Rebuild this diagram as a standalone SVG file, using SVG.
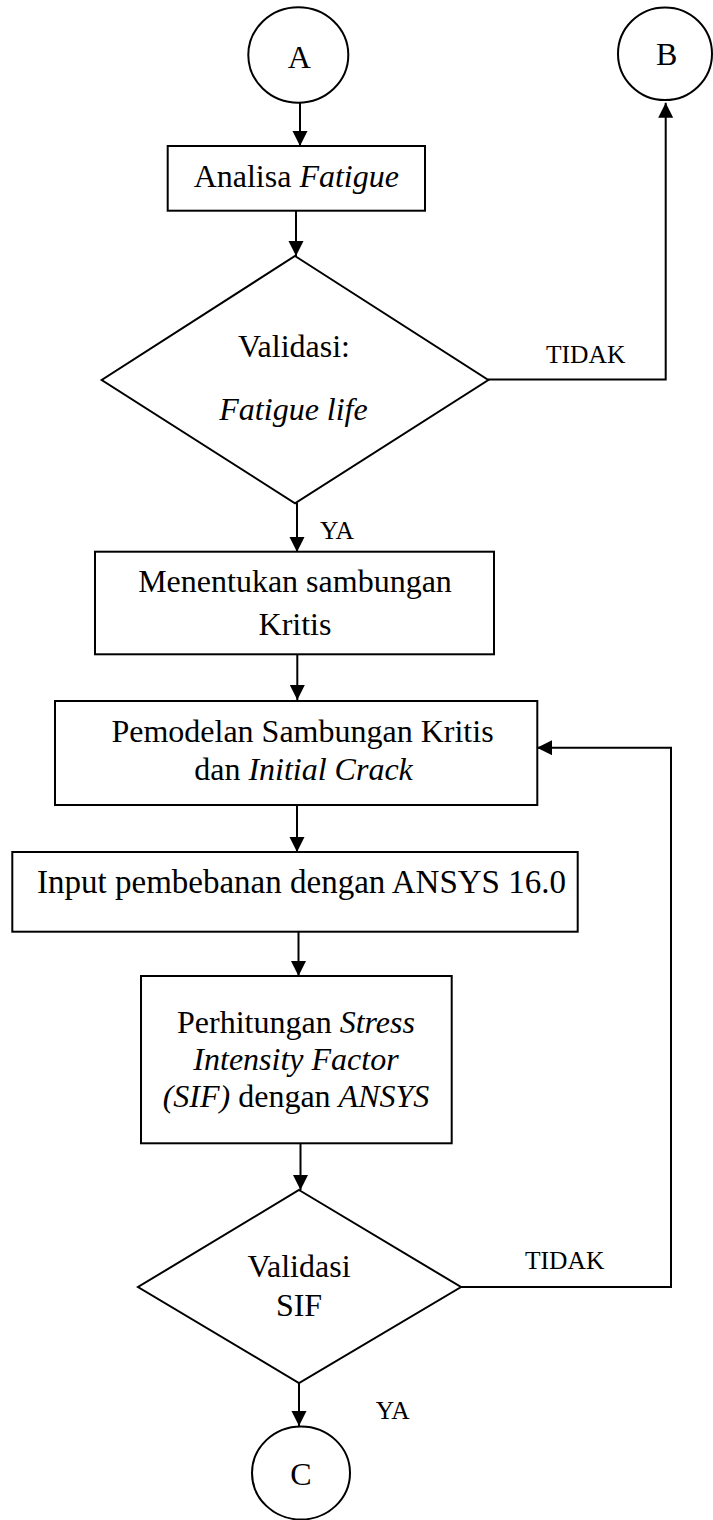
<svg xmlns="http://www.w3.org/2000/svg" width="713" height="1520" viewBox="0 0 713 1520">
<style>
.shape{fill:#fff;stroke:#000;stroke-width:2}
.line{fill:none;stroke:#000;stroke-width:2}
text{font-size:32px;fill:#000;text-anchor:middle}
.lbl{font-size:25.5px;text-anchor:start}
.it{font-style:italic}
</style>
<defs>
<marker id="arr" markerUnits="userSpaceOnUse" markerWidth="16" markerHeight="16" refX="15" refY="7.5" orient="auto">
<path d="M0,0 L15,7.5 L0,15 z" fill="#000"/>
</marker>
</defs>
<rect width="713" height="1520" fill="#fff"/>
<g font-family="'Liberation Serif', Tinos, 'DejaVu Serif', serif">
<g id="connectors">
<line class="line" x1="300" y1="103" x2="300" y2="146" marker-end="url(#arr)"/>
<line class="line" x1="296" y1="211" x2="296" y2="256" marker-end="url(#arr)"/>
<polyline class="line" points="488,379.5 665.7,379.5 665.7,102.7" marker-end="url(#arr)"/>
<line class="line" x1="297" y1="503" x2="297" y2="552" marker-end="url(#arr)"/>
<line class="line" x1="297.3" y1="654" x2="297.3" y2="700" marker-end="url(#arr)"/>
<line class="line" x1="297" y1="805" x2="297" y2="852" marker-end="url(#arr)"/>
<line class="line" x1="298.5" y1="932" x2="298.5" y2="976" marker-end="url(#arr)"/>
<line class="line" x1="300.5" y1="1143" x2="300.5" y2="1190" marker-end="url(#arr)"/>
<polyline class="line" points="461,1287 671,1287 671,747.7 537,747.7" marker-end="url(#arr)"/>
<line class="line" x1="299" y1="1383" x2="299" y2="1426" marker-end="url(#arr)"/>
<text class="lbl" x="546" y="362.7">TIDAK</text>
<text class="lbl" x="320" y="539">YA</text>
<text class="lbl" x="525" y="1269">TIDAK</text>
<text class="lbl" x="375.7" y="1419">YA</text>
</g>
<g id="nodeA">
<ellipse class="shape" cx="298.3" cy="55" rx="50" ry="47.7"/>
<text x="299.3" y="68.3">A</text>
</g>
<g id="nodeB">
<ellipse class="shape" cx="665" cy="53.7" rx="47" ry="46.3"/>
<text x="666.7" y="65">B</text>
</g>
<g id="analisa">
<rect class="shape" x="167.7" y="146" width="257.3" height="64.7"/>
<text x="296.3" y="186.7">Analisa <tspan class="it">Fatigue</tspan></text>
</g>
<g id="validasi1">
<polygon class="shape" points="295,256 488.3,380 295,503.3 101.7,380"/>
<text x="294" y="356.7">Validasi:</text>
<text x="293.5" y="420" class="it">Fatigue life</text>
</g>
<g id="menentukan">
<rect class="shape" x="95" y="551.7" width="399" height="102.6"/>
<text x="295" y="592.3">Menentukan sambungan</text>
<text x="295" y="635">Kritis</text>
</g>
<g id="pemodelan">
<rect class="shape" x="55" y="701" width="482.3" height="104"/>
<text x="302.5" y="741.7">Pemodelan Sambungan Kritis</text>
<text x="303.5" y="780">dan <tspan class="it">Initial Crack</tspan></text>
</g>
<g id="input">
<rect class="shape" x="12.3" y="852" width="565.4" height="79.7"/>
<text x="301.5" y="893" style="font-size:33px">Input pembebanan dengan ANSYS 16.0</text>
</g>
<g id="perhitungan">
<rect class="shape" x="141" y="976" width="310.7" height="167.3"/>
<text x="296" y="1033.3">Perhitungan <tspan class="it">Stress</tspan></text>
<text x="296" y="1070" class="it">Intensity Factor</text>
<text x="296" y="1106.7"><tspan class="it">(SIF)</tspan> dengan <tspan class="it">ANSYS</tspan></text>
</g>
<g id="validasi2">
<polygon class="shape" points="299,1190 461,1287 299,1383 138,1287"/>
<text x="299" y="1276.7">Validasi</text>
<text x="299" y="1316">SIF</text>
</g>
<g id="nodeC">
<ellipse class="shape" cx="301" cy="1473" rx="49" ry="46.5"/>
<text x="301" y="1485">C</text>
</g>
</g>
</svg>
